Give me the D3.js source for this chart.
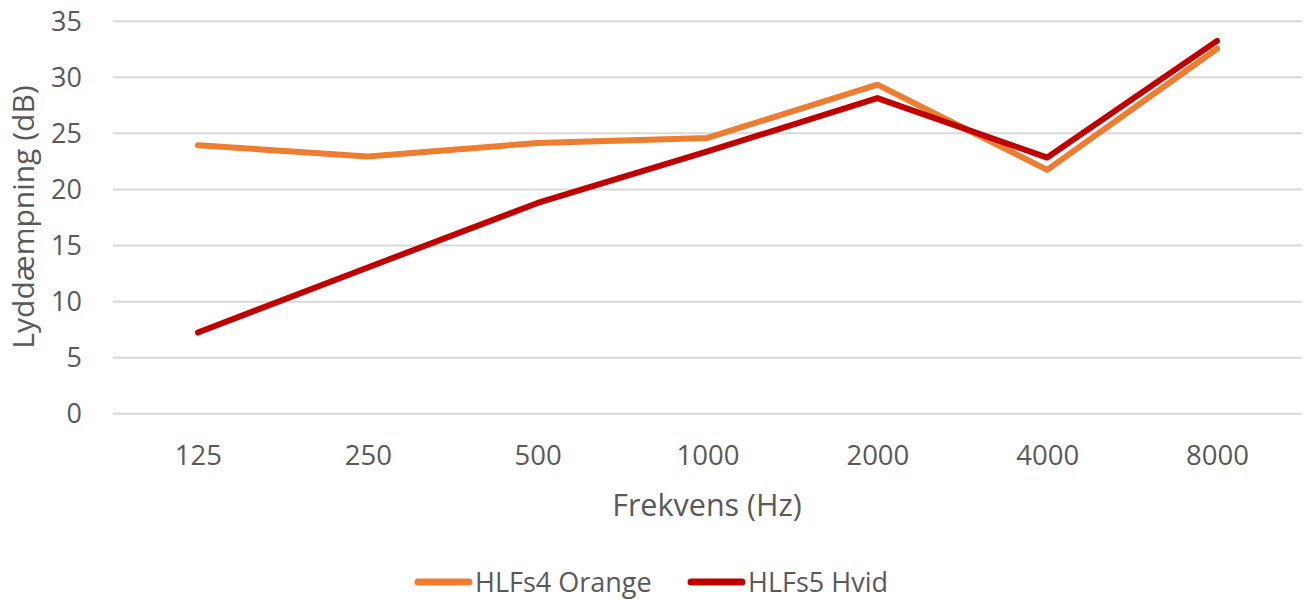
<!DOCTYPE html>
<html>
<head>
<meta charset="utf-8">
<script src="https://cdn.jsdelivr.net/npm/d3@7"></script>
<style>
  body { margin: 0; background: #fff; }
  svg text { font-family: "Open Sans", sans-serif; fill: #595959; }
</style>
</head>
<body>
<div class="graph"></div>
<script>
const frequencies = ['125', '250', '500', '1000', '2000', '4000', '8000'];
const orangeValues = [23.9, 22.9, 24.1, 24.55, 29.3, 21.7, 32.5];
const hvidValues = [7.2, 13.0, 18.75, 23.35, 28.1, 22.8, 33.2];
const yTicks = [0, 5, 10, 15, 20, 25, 30, 35];

const series = [
    { name: 'HLFs4 Orange', values: orangeValues, color: '#ED7D31' },
    { name: 'HLFs5 Hvid', values: hvidValues, color: '#C00000' }
];

const dim = { w: 1307, h: 600, left: 113, right: 1302, top: 20.7, bottom: 413.3 };

const svg = d3.select('.graph')
    .append('svg')
    .attr('width', dim.w)
    .attr('height', dim.h);

const xScale = d3.scalePoint()
    .domain(frequencies)
    .range([dim.left, dim.right])
    .padding(0.5);

const yScale = d3.scaleLinear()
    .domain([0, 35])
    .range([dim.bottom, dim.top]);

// gridlines + y labels
const yAxis = d3.axisLeft(yScale).tickValues(yTicks).tickSize(-(dim.right - dim.left)).tickPadding(31);
const yG = svg.append('g')
    .attr('transform', `translate(${dim.left},0)`)
    .call(yAxis);
yG.select('.domain').remove();
yG.selectAll('line').attr('stroke', '#D9D9D9').attr('stroke-width', 2);
yG.selectAll('text').style('font-size', '27px').attr('dy', '0.35em');

// x labels
const xAxis = d3.axisBottom(xScale).tickSize(0).tickPadding(32);
const xG = svg.append('g')
    .attr('transform', `translate(0,${dim.bottom})`)
    .call(xAxis);
xG.select('.domain').remove();
xG.selectAll('text').style('font-size', '27.5px');

// lines
const line = d3.line()
    .x((d, i) => xScale(frequencies[i]))
    .y(d => yScale(d));

svg.selectAll('.series')
    .data(series)
    .enter()
    .append('path')
    .attr('class', 'series')
    .attr('fill', 'none')
    .attr('stroke', d => d.color)
    .attr('stroke-width', 6)
    .attr('stroke-linecap', 'round')
    .attr('stroke-linejoin', 'round')
    .attr('d', d => line(d.values));

// axis titles
svg.append('text')
    .attr('x', 707)
    .attr('y', 516)
    .attr('text-anchor', 'middle')
    .style('font-size', '30.5px')
    .text('Frekvens (Hz)');

svg.append('text')
    .attr('transform', `translate(34,217) rotate(-90)`)
    .attr('text-anchor', 'middle')
    .style('font-size', '30px')
    .text('Lyddæmpning (dB)');

// legend
const legendX = [415, 688];
const legend = svg.selectAll('.legend')
    .data(series)
    .enter()
    .append('g')
    .attr('class', 'legend')
    .attr('transform', (d, i) => `translate(${legendX[i]},582)`);

legend.append('line')
    .attr('x1', 3).attr('x2', 54)
    .attr('stroke', d => d.color)
    .attr('stroke-width', 7)
    .attr('stroke-linecap', 'round');

legend.append('text')
    .attr('x', 60)
    .attr('dy', '0.37em')
    .style('font-size', '27px')
    .text(d => d.name);
</script>
</body>
</html>
